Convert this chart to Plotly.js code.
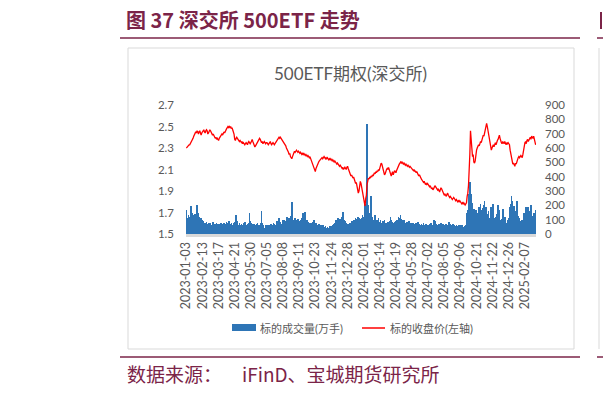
<!DOCTYPE html>
<html>
<head>
<meta charset="utf-8">
<script src="https://cdn.plot.ly/plotly-3.0.1.min.js"></script>
<style>html,body{margin:0;padding:0;background:#fff;}#chart{width:603px;height:394px;}</style>
</head>
<body>
<div id="chart"></div>
<script>
// Tick labels (every 24 trading days)
const dateLabels = ['2023-01-03','2023-02-13','2023-03-17','2023-04-21','2023-05-30','2023-07-05','2023-08-08','2023-09-11','2023-10-23','2023-11-24','2023-12-28','2024-02-01','2024-03-14','2024-04-19','2024-05-28','2024-07-02','2024-08-05','2024-09-06','2024-10-21','2024-11-22','2024-12-26','2025-02-07'];
const labelStep = 24;

// Underlying close price (left axis), daily
const closePrice = [
2.30,2.31,2.32,2.32,2.33,2.33,2.34,2.35,2.36,2.38,2.39,2.41,2.42,2.44,2.45,2.44,2.46,2.45,2.43,2.45,2.46,2.44,2.42,2.44,
2.45,2.46,2.47,2.45,2.44,2.46,2.47,2.46,2.43,2.44,2.46,2.47,2.46,2.45,2.43,2.42,2.43,2.41,2.40,2.39,2.40,2.38,2.39,2.38,
2.37,2.39,2.40,2.41,2.42,2.43,2.42,2.44,2.45,2.44,2.46,2.47,2.48,2.49,2.50,2.49,2.50,2.49,2.50,2.48,2.49,2.47,2.45,2.43,
2.38,2.37,2.39,2.40,2.39,2.38,2.37,2.36,2.37,2.36,2.35,2.36,2.34,2.35,2.34,2.33,2.34,2.35,2.34,2.33,2.35,2.36,2.35,2.34,
2.35,2.37,2.38,2.36,2.34,2.32,2.31,2.32,2.33,2.34,2.36,2.37,2.38,2.39,2.38,2.36,2.35,2.36,2.34,2.35,2.36,2.35,2.34,2.35,
2.35,2.34,2.33,2.34,2.35,2.36,2.34,2.33,2.34,2.35,2.34,2.33,2.34,2.35,2.36,2.37,2.38,2.39,2.40,2.39,2.40,2.39,2.38,2.37,
2.37,2.36,2.34,2.33,2.32,2.30,2.29,2.27,2.26,2.24,2.25,2.22,2.21,2.20,2.22,2.24,2.25,2.27,2.26,2.27,2.28,2.27,2.26,2.27,
2.26,2.25,2.26,2.25,2.24,2.25,2.24,2.25,2.24,2.23,2.24,2.23,2.22,2.23,2.22,2.21,2.22,2.20,2.18,2.16,2.14,2.12,2.10,2.09,
2.08,2.11,2.13,2.15,2.16,2.17,2.18,2.19,2.19,2.20,2.21,2.20,2.21,2.22,2.21,2.20,2.21,2.20,2.21,2.20,2.19,2.20,2.19,2.20,
2.19,2.18,2.19,2.18,2.17,2.18,2.17,2.16,2.15,2.16,2.15,2.14,2.13,2.14,2.13,2.12,2.11,2.12,2.10,2.11,2.12,2.11,2.10,2.12,
2.13,2.11,2.09,2.08,2.06,2.04,2.05,2.03,2.02,2.03,2.01,1.99,1.97,1.98,1.95,1.93,1.88,1.90,1.96,1.99,1.97,1.93,1.90,1.85,
1.82,1.78,1.76,1.83,1.86,1.96,2.00,2.02,2.01,2.03,2.02,2.04,2.03,2.05,2.04,2.06,2.07,2.06,2.08,2.07,2.09,2.08,2.10,2.09,
2.12,2.14,2.16,2.15,2.13,2.10,2.07,2.05,2.06,2.09,2.10,2.11,2.10,2.12,2.10,2.08,2.05,2.04,2.06,2.08,2.05,2.07,2.09,2.08,
2.07,2.09,2.11,2.13,2.14,2.15,2.16,2.17,2.16,2.17,2.16,2.15,2.16,2.15,2.14,2.15,2.14,2.13,2.14,2.13,2.12,2.13,2.12,2.11,
2.11,2.10,2.09,2.10,2.08,2.09,2.07,2.08,2.06,2.05,2.04,2.05,2.03,2.02,2.01,2.00,1.99,1.98,1.99,1.97,1.96,1.97,1.96,1.97,
1.96,1.95,1.94,1.95,1.93,1.92,1.93,1.91,1.92,1.94,1.95,1.94,1.93,1.92,1.91,1.92,1.90,1.89,1.91,1.93,1.92,1.90,1.88,1.87,
1.86,1.87,1.86,1.85,1.87,1.88,1.86,1.85,1.84,1.85,1.84,1.83,1.82,1.83,1.84,1.83,1.82,1.81,1.82,1.81,1.80,1.81,1.80,1.81,
1.80,1.79,1.78,1.79,1.78,1.79,1.78,1.77,1.78,1.79,1.85,1.88,1.95,2.06,2.24,2.46,2.32,2.30,2.22,2.24,2.17,2.16,2.18,2.27,
2.28,2.30,2.31,2.33,2.32,2.34,2.36,2.35,2.37,2.40,2.42,2.41,2.44,2.47,2.51,2.53,2.50,2.46,2.42,2.38,2.36,2.33,2.28,2.30,
2.32,2.33,2.31,2.34,2.35,2.33,2.36,2.37,2.38,2.40,2.42,2.39,2.36,2.35,2.34,2.36,2.35,2.34,2.36,2.35,2.33,2.35,2.34,2.35,
2.34,2.33,2.28,2.25,2.20,2.17,2.15,2.16,2.14,2.13,2.16,2.15,2.17,2.20,2.21,2.22,2.21,2.22,2.23,2.22,2.21,2.24,2.28,2.33,
2.35,2.36,2.34,2.37,2.38,2.36,2.37,2.39,2.40,2.38,2.41,2.40,2.39,2.41,2.37,2.35,2.33
];

// Underlying volume (万手, right axis), daily
const volume = [
170,110,95,130,105,120,140,195,150,115,125,135,110,140,120,165,200,150,135,120,105,95,110,100,
85,90,75,70,80,65,85,70,60,75,65,80,70,60,55,70,85,65,60,70,55,80,65,70,
60,70,55,65,75,60,55,70,80,60,55,70,85,75,60,65,90,70,60,75,55,65,80,70,
85,75,130,90,70,65,60,75,55,60,70,65,55,60,75,85,60,55,65,70,60,80,150,90,
75,65,70,60,55,70,65,60,55,70,75,60,65,55,60,75,160,80,65,40,35,45,55,60,
50,55,60,65,55,60,70,55,60,65,75,70,60,55,80,90,75,95,110,85,75,70,65,80,
95,85,100,90,80,105,120,95,110,100,115,125,105,225,120,95,100,90,110,85,95,80,105,90,
85,90,75,100,110,95,150,105,85,155,95,90,100,85,75,80,70,75,65,80,70,85,95,90,
80,75,70,65,60,70,55,60,65,55,50,60,55,45,50,55,40,45,50,45,40,50,55,45,
50,55,60,65,70,80,75,100,85,90,110,95,80,105,90,100,120,155,110,95,85,90,75,70,
65,60,70,75,80,70,85,90,75,80,95,100,110,90,105,85,120,100,110,95,105,115,130,110,
120,140,210,150,260,765,180,200,150,130,140,265,120,110,100,95,120,130,100,85,90,95,110,85,
80,95,75,70,85,90,80,100,75,70,65,80,85,70,75,90,120,95,85,80,75,70,85,80,
90,85,95,100,120,110,95,130,105,90,85,100,95,80,75,70,85,80,75,90,85,70,75,80,
75,70,80,65,70,60,75,70,65,85,70,60,65,55,70,60,65,75,60,55,65,70,60,55,
60,65,55,70,75,60,55,65,80,95,90,75,70,60,55,65,70,60,55,80,75,65,70,60,
65,60,55,70,65,60,75,85,70,65,60,55,60,70,65,60,55,50,60,55,50,60,55,60,
55,50,60,55,50,45,55,50,60,65,150,170,210,280,365,355,280,190,215,160,175,150,140,165,
135,145,120,130,185,150,210,170,140,125,180,200,230,160,185,150,120,140,160,115,110,130,190,150,
210,125,115,100,120,95,140,110,200,165,120,100,90,85,105,175,110,95,120,90,80,75,95,100,
110,130,190,210,265,230,180,150,195,140,160,120,230,150,125,100,110,90,80,95,100,85,130,150,
140,160,190,120,150,185,130,115,160,200,140,125,110,130,150,120,165
];

const seriesNames = ['标的成交量(万手)', '标的收盘价(左轴)'];
const chartTitle = '500ETF期权(深交所)';
const pageTitle = '图 37 深交所 500ETF 走势';
const sourceLabel = '数据来源：';
const sourceText = 'iFinD、宝城期货研究所';

const xIdx = closePrice.map((_, i) => i);
const tickVals = dateLabels.map((_, i) => i * labelStep);

// plot-area pixel frame -> paper coords
const L = 186, R = 536, T = 105, B = 234;
const px = v => (v - L) / (R - L);
const py = v => (B - v) / (B - T);

const maroon = '#7b2448';
const grey = '#595959';
const fam = 'Lato, "Noto Sans CJK SC", sans-serif';
const cjk = '"Noto Sans CJK SC", sans-serif';

const traces = [
  { type: 'bar', x: xIdx, y: volume, yaxis: 'y', name: seriesNames[0],
    marker: { color: '#2e75b6', line: { width: 0 } }, showlegend: false },
  { type: 'scatter', mode: 'lines', x: xIdx, y: closePrice, yaxis: 'y2', name: seriesNames[1],
    line: { color: '#ff0000', width: 1.3 }, showlegend: false }
];

const layout = {
  width: 603, height: 394,
  margin: { l: L, r: 603 - R, t: T, b: 394 - B, pad: 0 },
  paper_bgcolor: '#ffffff', plot_bgcolor: 'rgba(0,0,0,0)',
  bargap: 0,
  showlegend: false,
  hovermode: false,
  dragmode: false,
  font: { family: fam, color: grey },
  xaxis: {
    range: [-0.5, closePrice.length - 0.5],
    tickmode: 'array', tickvals: tickVals, ticktext: dateLabels,
    tickangle: -90, ticks: '', showgrid: false, zeroline: false,
    showline: true, linecolor: '#d9d9d9', linewidth: 3,
    tickfont: { size: 12.5, color: grey, family: fam }
  },
  yaxis: {
    side: 'right', range: [0, 900], dtick: 100, tick0: 0,
    showgrid: false, zeroline: false, showline: false, ticks: '',
    ticklabelstandoff: 8,
    tickfont: { size: 11.5, color: grey, family: fam }
  },
  yaxis2: {
    overlaying: 'y', side: 'left', range: [1.5, 2.7], dtick: 0.2, tick0: 1.5,
    tickformat: '.1f', showgrid: false, zeroline: false, showline: false, ticks: '',
    ticklabelstandoff: 11,
    tickfont: { size: 11.5, color: grey, family: fam }
  },
  shapes: [
    { type: 'rect', xref: 'paper', yref: 'paper', x0: px(128), x1: px(574), y0: py(349), y1: py(48),
      line: { color: '#d9d9d9', width: 1 }, fillcolor: 'rgba(0,0,0,0)', layer: 'below' },
    { type: 'line', xref: 'paper', yref: 'paper', x0: px(599), x1: px(599), y0: py(349), y1: py(48),
      line: { color: '#d9d9d9', width: 1 } },
    { type: 'line', xref: 'paper', yref: 'paper', x0: px(120), x1: px(580), y0: py(38), y1: py(38),
      line: { color: maroon, width: 1.5 } },
    { type: 'line', xref: 'paper', yref: 'paper', x0: px(597), x1: px(605), y0: py(38), y1: py(38),
      line: { color: maroon, width: 1.5 } },
    { type: 'line', xref: 'paper', yref: 'paper', x0: px(601), x1: px(601), y0: py(29), y1: py(12),
      line: { color: maroon, width: 2 } },
    { type: 'line', xref: 'paper', yref: 'paper', x0: px(120), x1: px(580), y0: py(357), y1: py(357),
      line: { color: maroon, width: 1.5 } },
    { type: 'line', xref: 'paper', yref: 'paper', x0: px(597), x1: px(605), y0: py(357), y1: py(357),
      line: { color: maroon, width: 1.5 } },
    { type: 'rect', xref: 'paper', yref: 'paper', x0: px(232), x1: px(256), y0: py(331), y1: py(324),
      line: { width: 0 }, fillcolor: '#2e75b6' },
    { type: 'line', xref: 'paper', yref: 'paper', x0: px(362), x1: px(385), y0: py(328), y1: py(328),
      line: { color: '#ff0000', width: 1.5 } }
  ],
  annotations: [
    { xref: 'paper', yref: 'paper', x: px(124), y: py(20), xanchor: 'left', yanchor: 'middle', showarrow: false,
      text: '<b>' + pageTitle + '</b>', font: { size: 20, color: maroon, family: cjk } },
    { xref: 'paper', yref: 'paper', x: px(350), y: py(73), xanchor: 'center', yanchor: 'middle', showarrow: false,
      text: chartTitle, font: { size: 17, color: grey, family: fam } },
    { xref: 'paper', yref: 'paper', x: px(258), y: py(328), xanchor: 'left', yanchor: 'middle', showarrow: false,
      text: seriesNames[0], font: { size: 11, color: grey, family: fam } },
    { xref: 'paper', yref: 'paper', x: px(388), y: py(328), xanchor: 'left', yanchor: 'middle', showarrow: false,
      text: seriesNames[1], font: { size: 11, color: grey, family: fam } },
    { xref: 'paper', yref: 'paper', x: px(125), y: py(373), xanchor: 'left', yanchor: 'middle', showarrow: false,
      text: sourceLabel, font: { size: 19, color: maroon, family: cjk } },
    { xref: 'paper', yref: 'paper', x: px(240), y: py(373), xanchor: 'left', yanchor: 'middle', showarrow: false,
      text: sourceText, font: { size: 19, color: maroon, family: cjk } }
  ]
};

Plotly.newPlot('chart', traces, layout, { displayModeBar: false, responsive: false });
</script>
</body>
</html>
